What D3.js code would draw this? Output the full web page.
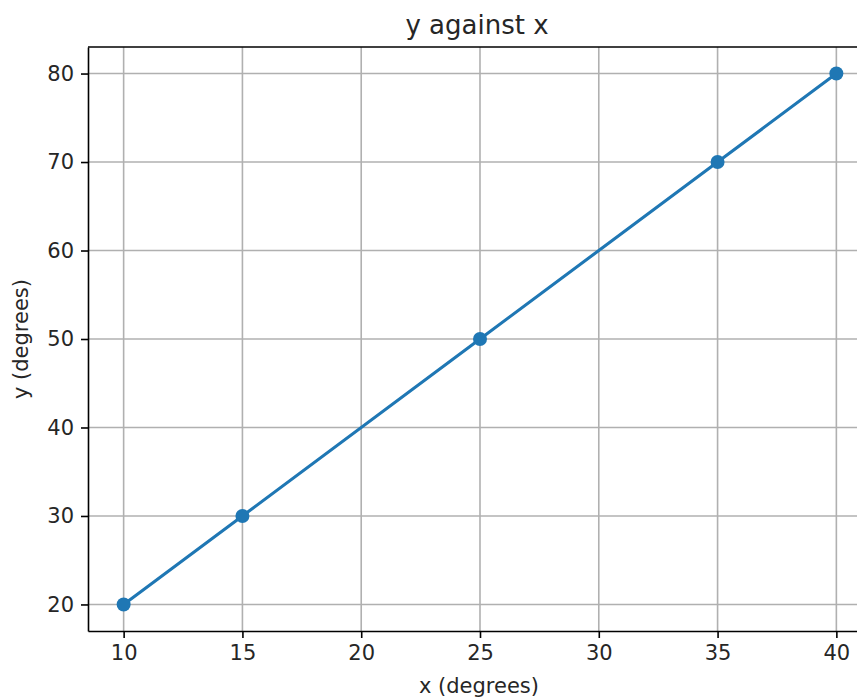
<!DOCTYPE html>
<html>
<head>
<meta charset="utf-8">
<script src="https://cdn.jsdelivr.net/npm/d3@7"></script>
<style>
  body { margin: 0; background: #fff; }
  svg { display: block; font-family: "DejaVu Sans", sans-serif; overflow: hidden; }
</style>
</head>
<body>
<script>
const xValues = [10, 15, 25, 35, 40]
const yValues = [20, 30, 50, 70, 80]
const xTicks = [10, 15, 20, 25, 30, 35, 40]
const yTicks = [20, 30, 40, 50, 60, 70, 80]

const width = 857
const height = 700
const margin = { top: 47, left: 88 }
const plotW = 784   // runs past the right edge, as in the cropped original
const plotH = 584

const svg = d3.select('body')
  .append('svg')
  .attr('width', width)
  .attr('height', height)

const x = d3.scaleLinear().domain([8.5, 41.5]).range([margin.left, margin.left + plotW])
const y = d3.scaleLinear().domain([17, 83]).range([margin.top + plotH, margin.top])

// grid
svg.append('g')
  .selectAll('line')
  .data(xTicks)
  .enter()
  .append('line')
  .attr('x1', d => x(d)).attr('x2', d => x(d))
  .attr('y1', margin.top).attr('y2', margin.top + plotH)
  .attr('stroke', '#b0b0b0').attr('stroke-width', 1.6)

svg.append('g')
  .selectAll('line')
  .data(yTicks)
  .enter()
  .append('line')
  .attr('x1', margin.left).attr('x2', margin.left + plotW)
  .attr('y1', d => y(d)).attr('y2', d => y(d))
  .attr('stroke', '#b0b0b0').attr('stroke-width', 1.6)

// axes
const xAxis = svg.append('g')
  .attr('transform', `translate(0,${margin.top + plotH})`)
  .call(d3.axisBottom(x).tickValues(xTicks).tickSize(7).tickPadding(7).tickSizeOuter(0))
const yAxis = svg.append('g')
  .attr('transform', `translate(${margin.left},0)`)
  .call(d3.axisLeft(y).tickValues(yTicks).tickSize(7).tickPadding(7).tickSizeOuter(0))

;[xAxis, yAxis].forEach(a => {
  a.select('.domain').attr('stroke', '#000').attr('stroke-width', 1.6)
  a.selectAll('.tick line').attr('stroke', '#000').attr('stroke-width', 1.6)
  a.selectAll('.tick text').attr('fill', '#262626').style('font-size', '21px').style('font-family', 'DejaVu Sans')
})

// top spine
svg.append('line')
  .attr('x1', margin.left).attr('x2', margin.left + plotW)
  .attr('y1', margin.top).attr('y2', margin.top)
  .attr('stroke', '#000').attr('stroke-width', 1.6)

// line + markers
const pts = xValues.map((d, i) => [d, yValues[i]])
svg.append('path')
  .datum(pts)
  .attr('fill', 'none')
  .attr('stroke', '#1f77b4')
  .attr('stroke-width', 3.1)
  .attr('d', d3.line().x(d => x(d[0])).y(d => y(d[1])))

svg.append('g')
  .selectAll('circle')
  .data(pts)
  .enter()
  .append('circle')
  .attr('cx', d => x(d[0]))
  .attr('cy', d => y(d[1]))
  .attr('r', 7)
  .attr('fill', '#1f77b4')

// labels
svg.append('text')
  .attr('x', 477).attr('y', 34)
  .attr('text-anchor', 'middle')
  .style('font-size', '26px')
  .attr('fill', '#262626')
  .text('y against x')

svg.append('text')
  .attr('x', 479).attr('y', 693)
  .attr('text-anchor', 'middle')
  .style('font-size', '21px')
  .attr('fill', '#262626')
  .text('x (degrees)')

svg.append('text')
  .attr('transform', `translate(28,${margin.top + plotH / 2}) rotate(-90)`)
  .attr('text-anchor', 'middle')
  .style('font-size', '21px')
  .attr('fill', '#262626')
  .text('y (degrees)')
</script>
</body>
</html>
